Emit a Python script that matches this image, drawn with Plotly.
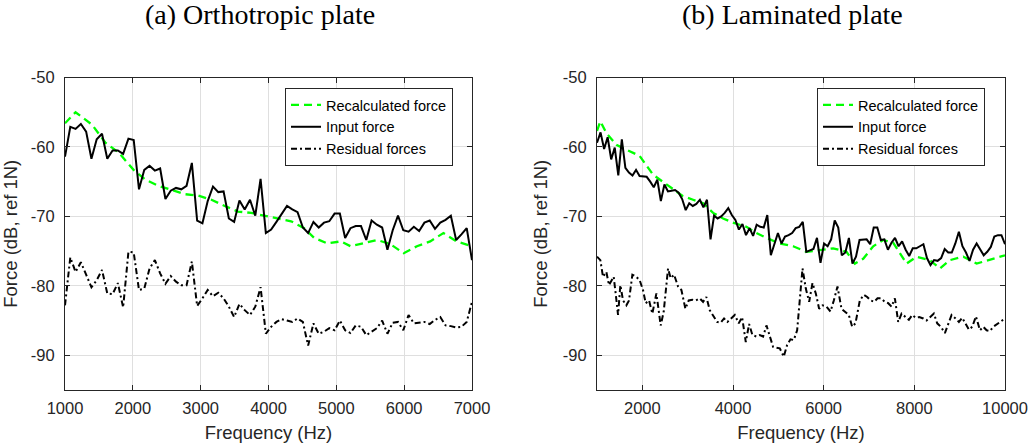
import numpy as np
import plotly.graph_objects as go

# ---------------- (a) Orthotropic plate ----------------
freq_a = np.linspace(1000, 7000, 78)
input_a = [-61.4, -57.1, -57.4, -56.7, -57.8, -61.7, -58.9, -58.1, -61.7, -60.5,
           -60.5, -61.0, -58.8, -59.0, -66.1, -63.3, -62.7, -63.4, -63.1, -67.5,
           -66.3, -65.9, -66.1, -65.6, -62.3, -70.6, -71.0, -67.8, -65.7, -66.5,
           -66.4, -70.3, -70.8, -67.7, -69.0, -67.6, -69.9, -64.6, -72.4, -71.9,
           -70.8, -69.7, -68.5, -69.0, -69.4, -71.6, -72.4, -70.8, -71.6, -70.9,
           -70.7, -69.6, -69.6, -73.1, -71.7, -71.4, -71.4, -73.4, -70.6, -71.2,
           -71.6, -74.8, -72.0, -69.9, -72.0, -72.2, -71.5, -72.1, -70.9, -70.6,
           -71.8, -70.9, -70.5, -69.9, -73.4, -72.6, -71.7, -76.3]
resid_a = [-82.8, -75.9, -78.0, -76.6, -78.4, -80.2, -79.2, -77.7, -81.1, -81.2,
           -79.6, -83.1, -75.1, -75.2, -80.6, -80.4, -77.5, -76.3, -78.2, -79.7,
           -78.6, -79.4, -79.9, -79.9, -76.5, -82.9, -81.8, -80.6, -81.5, -81.0,
           -81.8, -83.0, -84.5, -82.6, -83.5, -84.2, -83.0, -80.2, -86.9, -85.9,
           -85.2, -84.8, -85.0, -85.2, -84.7, -85.2, -88.6, -85.4, -86.9, -86.6,
           -86.1, -86.4, -85.0, -86.4, -86.8, -85.7, -85.9, -87.1, -86.6, -86.1,
           -85.0, -86.9, -85.3, -85.2, -86.4, -84.2, -85.4, -85.3, -85.2, -85.5,
           -84.9, -84.5, -85.7, -85.8, -86.0, -85.9, -85.2, -82.3]
recalc_freq_a = [1000, 1156, 1400, 1596, 1791, 2011, 2182, 2378, 2573, 2768, 2964,
                 3159, 3355, 3550, 3745, 3941, 4137, 4332, 4527, 4674, 4869, 5065,
                 5211, 5406, 5602, 5797, 5993, 6188, 6384, 6579, 6774, 7000]
recalc_a = [-56.6, -55.0, -56.8, -59.4, -60.8, -63.3, -64.7, -65.6, -66.2, -66.8,
            -67.0, -67.6, -68.5, -69.3, -69.5, -69.9, -70.3, -70.7, -71.7, -73.1,
            -73.9, -73.6, -74.3, -73.9, -73.4, -74.0, -75.3, -74.3, -73.6, -72.4,
            -73.6, -74.3]

# ---------------- (b) Laminated plate ----------------
freq_b = np.linspace(1000, 10000, 116)
input_b = [-59.4, -57.9, -60.3, -58.6, -61.8, -60.1, -64.1, -58.9, -63.0, -63.7,
           -64.1, -63.3, -64.2, -64.2, -64.3, -65.0, -65.8, -64.7, -67.8, -65.4,
           -66.4, -66.3, -66.2, -66.6, -67.5, -69.1, -68.1, -68.5, -68.2, -67.6,
           -68.7, -67.6, -73.3, -69.9, -70.3, -70.0, -69.5, -68.8, -69.8, -70.5,
           -71.9, -71.1, -72.7, -71.7, -72.8, -71.2, -71.5, -71.6, -69.8, -75.6,
           -74.1, -72.4, -73.9, -72.9, -72.7, -72.4, -71.7, -71.5, -70.8, -75.1,
           -74.9, -74.7, -73.1, -76.7, -73.9, -74.3, -73.3, -70.6, -71.6, -75.6,
           -75.2, -73.1, -76.8, -75.8, -73.4, -73.4, -73.3, -74.0, -71.6, -71.6,
           -73.4, -73.3, -74.8, -73.8, -73.1, -74.3, -73.6, -74.8, -75.7, -74.6,
           -74.6, -74.3, -74.0, -76.0, -77.0, -76.3, -76.4, -76.0, -74.7, -75.2,
           -75.2, -73.9, -72.2, -74.3, -75.2, -76.4, -74.8, -73.9, -74.8, -75.6,
           -75.1, -74.4, -72.9, -72.7, -72.7, -74.0]
resid_freq_b = [1000, 1074, 1132, 1206, 1265, 1316, 1368, 1412, 1464, 1515,
                1574, 1648, 1706, 1780, 1868, 1942, 2015, 2074, 2148, 2221,
                2310, 2405, 2472, 2567, 2626, 2700, 2788, 2862, 2950, 3023,
                3104, 3178, 3266, 3340, 3413, 3487, 3575, 3649, 3730, 3803,
                3877, 3951, 4039, 4127, 4201, 4282, 4355, 4429, 4517, 4591,
                4664, 4738, 4811, 4885, 4959, 5032, 5120, 5194, 5268, 5341,
                5415, 5488, 5533, 5606, 5680, 5753, 5827, 5900, 5974, 6062,
                6151, 6224, 6305, 6393, 6467, 6555, 6629, 6702, 6798, 6886,
                6960, 7034, 7115, 7188, 7262, 7350, 7424, 7497, 7571, 7644,
                7718, 7806, 7880, 7953, 8034, 8108, 8196, 8270, 8358, 8431,
                8505, 8586, 8674, 8748, 8822, 8910, 8983, 9057, 9131, 9204,
                9278, 9359, 9447, 9521, 9594, 9668, 9741, 9830, 9903, 10000]
resid_b = [-75.8, -76.3, -78.7, -78.0, -79.9, -79.4, -78.7, -81.1, -84.2, -79.9,
           -82.1, -82.8, -82.1, -78.4, -78.7, -79.2, -80.6, -82.5, -82.1, -84.0,
           -81.1, -85.7, -83.7, -77.5, -78.9, -78.4, -80.1, -80.6, -83.3, -82.1,
           -82.0, -82.1, -81.8, -82.3, -81.6, -83.5, -84.4, -85.2, -85.3, -84.7,
           -85.2, -84.8, -84.2, -85.4, -84.5, -88.1, -85.5, -87.1, -87.3, -87.1,
           -87.3, -85.7, -87.3, -88.8, -88.9, -89.0, -90.2, -88.5, -87.7, -87.8,
           -86.4, -80.8, -77.5, -80.4, -82.3, -79.6, -81.1, -83.3, -82.8, -83.0,
           -83.7, -82.1, -80.1, -83.3, -83.7, -84.2, -85.9, -85.4, -82.1, -81.3,
           -81.6, -82.1, -82.3, -81.8, -81.8, -82.3, -82.5, -83.0, -81.8, -85.2,
           -84.0, -84.5, -84.9, -84.2, -84.6, -84.5, -84.7, -85.0, -84.5, -84.0,
           -85.4, -85.9, -86.8, -85.4, -84.2, -84.7, -85.2, -84.6, -85.4, -86.3,
           -85.9, -84.4, -86.4, -85.9, -86.4, -86.5, -85.9, -85.5, -85.2, -84.7]
recalc_freq_b = [1000, 1074, 1206, 1427, 1648, 1942, 2236, 2457, 2678, 2898, 3119,
                 3340, 3561, 3782, 3996, 4297, 4517, 4738, 5032, 5327, 5621, 5915,
                 6210, 6504, 6688, 6872, 7093, 7313, 7534, 7829, 8049, 8344, 8564,
                 8785, 9080, 9374, 9668, 10000]
recalc_b = [-57.7, -56.3, -58.0, -59.7, -60.4, -61.3, -64.0, -65.0, -66.1, -67.1,
            -67.6, -68.1, -69.5, -70.3, -70.9, -71.5, -72.4, -73.1, -73.9, -74.3,
            -75.1, -74.8, -74.6, -75.1, -76.8, -76.1, -74.3, -73.4, -73.8, -76.8,
            -75.8, -76.3, -77.5, -76.3, -75.8, -76.8, -76.2, -75.6]

series_names = ["Recalculated force", "Input force", "Residual forces"]
titles = ["(a) Orthotropic plate", "(b) Laminated plate"]
y_ticks = [-90, -80, -70, -60, -50]
y_ticktext = ["-90", "-80", "-70", "-60", "-50"]
x_ticks_a = [1000, 2000, 3000, 4000, 5000, 6000, 7000]
x_ticks_b = [2000, 4000, 6000, 8000, 10000]

SANS = "Arial, Liberation Sans, sans-serif"
SERIF = "Times New Roman, Liberation Serif, serif"
GREEN = "#00ff00"
FRAME = "#262626"

fig = go.Figure()

def add_set(fx, fy, resx, resy, rx, ry, xa, ya, leg):
    fig.add_trace(go.Scatter(x=rx, y=ry, mode="lines", name=series_names[0],
                             line=dict(color=GREEN, width=2.3, dash="8px,5px"),
                             xaxis=xa, yaxis=ya, legend=leg))
    fig.add_trace(go.Scatter(x=fx, y=fy, mode="lines", name=series_names[1],
                             line=dict(color="black", width=2),
                             xaxis=xa, yaxis=ya, legend=leg))
    fig.add_trace(go.Scatter(x=resx, y=resy, mode="lines", name=series_names[2],
                             line=dict(color="black", width=2, dash="6px,3px,2px,3px"),
                             xaxis=xa, yaxis=ya, legend=leg))

add_set(freq_a, input_a, freq_a, resid_a, recalc_freq_a, recalc_a, "x", "y", "legend")
add_set(freq_b, input_b, resid_freq_b, resid_b, recalc_freq_b, recalc_b, "x2", "y2", "legend2")

ydom = [58 / 448, (448 - 77.5) / 448]
common_x = dict(showline=True, linecolor=FRAME, linewidth=1, mirror="allticks",
                ticks="inside", ticklen=5, tickcolor=FRAME, showgrid=True,
                gridcolor="#dfdfdf", gridwidth=1, zeroline=False,
                tickfont=dict(family=SANS, size=16.5, color=FRAME),
                title=dict(text="Frequency (Hz)", font=dict(family=SANS, size=18.5, color=FRAME),
                           standoff=10),
                automargin=False, ticklabelstandoff=3)
common_y = dict(showline=True, linecolor=FRAME, linewidth=1, mirror="allticks",
                ticks="inside", ticklen=5, tickcolor=FRAME, showgrid=True,
                gridcolor="#dfdfdf", gridwidth=1, zeroline=False,
                range=[-95, -50], tickvals=y_ticks, ticktext=y_ticktext,
                tickfont=dict(family=SANS, size=16.5, color=FRAME),
                title=dict(text="Force (dB, ref 1N)", font=dict(family=SANS, size=18.5, color=FRAME),
                           standoff=10),
                automargin=False, ticklabelstandoff=6, domain=ydom)

leg_common = dict(bgcolor="white", bordercolor=FRAME, borderwidth=1,
                  font=dict(family=SANS, size=14.5, color="black"),
                  xanchor="left", yanchor="top", tracegroupgap=0,
                  itemwidth=30)

fig.update_layout(
    width=1033, height=448,
    margin=dict(l=0, r=0, t=0, b=0),
    paper_bgcolor="white", plot_bgcolor="white",
    showlegend=True,
    xaxis=dict(common_x, domain=[65 / 1033, 472 / 1033], range=[1000, 7000],
               tickvals=x_ticks_a, ticktext=[str(v) for v in x_ticks_a]),
    yaxis=dict(common_y, anchor="x"),
    xaxis2=dict(common_x, domain=[597 / 1033, 1005 / 1033], range=[1000, 10000],
                tickvals=x_ticks_b, ticktext=[str(v) for v in x_ticks_b], anchor="y2"),
    yaxis2=dict(common_y, anchor="x2"),
    legend=dict(leg_common, x=285 / 1033, y=(448 - 88) / 448),
    legend2=dict(leg_common, x=817 / 1033, y=(448 - 88) / 448),
    annotations=[
        dict(text=titles[0], x=260 / 1033, y=(448 - 14) / 448, xref="paper", yref="paper",
             showarrow=False, xanchor="center", yanchor="middle",
             font=dict(family=SERIF, size=28, color="black")),
        dict(text=titles[1], x=792 / 1033, y=(448 - 14) / 448, xref="paper", yref="paper",
             showarrow=False, xanchor="center", yanchor="middle",
             font=dict(family=SERIF, size=28, color="black")),
    ],
)

fig.write_html("out.html")
